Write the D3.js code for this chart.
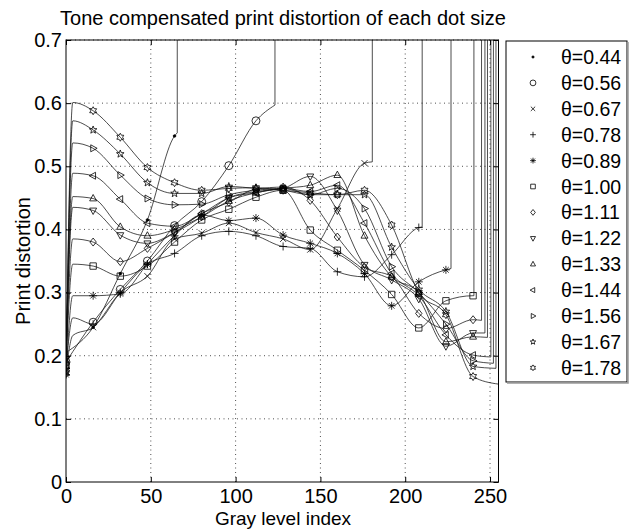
<!DOCTYPE html>
<html>
<head>
<meta charset="utf-8">
<script src="https://cdn.jsdelivr.net/npm/d3@7"></script>
<style>
  body { margin: 0; background: #fff; }
  text { font-family: "Liberation Sans", Arial, Helvetica, sans-serif; fill: #000; }
</style>
</head>
<body>
<svg id="chart" width="629" height="529"></svg>
<script>
// gray levels where the markers sit
var grayLevels = [0, 16, 32, 48, 64, 80, 96, 112, 128, 144, 160, 176, 192, 208, 224, 240]

var thetaLabels = ["θ=0.44", "θ=0.56", "θ=0.67", "θ=0.78", "θ=0.89", "θ=1.00", "θ=1.11",
                   "θ=1.22", "θ=1.33", "θ=1.44", "θ=1.56", "θ=1.67", "θ=1.78"]
var markerKinds = ["dot", "circle", "times", "plus", "asterisk", "square", "diamond",
                   "triDown", "triUp", "triLeft", "triRight", "pentagram", "hexagram"]

// print distortion at each gray level (null = curve already gone)
var dist044 = [0.205, 0.245, 0.33, 0.415, 0.548, null, null, null, null, null, null, null, null, null, null, null]
var dist056 = [0.19, 0.253, 0.305, 0.35, 0.406, 0.444, 0.501, 0.572, null, null, null, null, null, null, null, null]
var dist067 = [0.175, 0.245, 0.30, 0.326, 0.385, 0.394, 0.41, 0.395, 0.385, 0.368, 0.433, 0.505, null, null, null, null]
var dist078 = [0.18, 0.25, 0.30, 0.345, 0.362, 0.39, 0.397, 0.39, 0.373, 0.37, 0.333, 0.325, 0.36, 0.403, null, null]
var dist089 = [0.17, 0.295, 0.298, 0.345, 0.39, 0.423, 0.414, 0.418, 0.391, 0.378, 0.362, 0.33, 0.279, 0.317, 0.336, null]
var dist100 = [0.185, 0.342, 0.326, 0.342, 0.38, 0.415, 0.432, 0.451, 0.462, 0.399, 0.367, 0.335, 0.297, 0.244, 0.287, 0.295]
var dist111 = [0.19, 0.38, 0.349, 0.37, 0.395, 0.425, 0.443, 0.464, 0.467, 0.446, 0.388, 0.34, 0.325, 0.267, 0.243, 0.257]
var dist122 = [0.195, 0.43, 0.391, 0.378, 0.395, 0.42, 0.45, 0.46, 0.465, 0.484, 0.43, 0.344, 0.32, 0.29, 0.215, 0.236]
var dist133 = [0.2, 0.449, 0.404, 0.39, 0.40, 0.42, 0.445, 0.458, 0.465, 0.47, 0.486, 0.39, 0.325, 0.30, 0.222, 0.230]
var dist144 = [0.185, 0.485, 0.448, 0.41, 0.405, 0.425, 0.45, 0.458, 0.465, 0.46, 0.47, 0.41, 0.33, 0.295, 0.233, 0.201]
var dist156 = [0.18, 0.5285, 0.486, 0.449, 0.439, 0.44, 0.455, 0.462, 0.465, 0.455, 0.465, 0.433, 0.341, 0.30, 0.25, 0.192]
var dist167 = [0.175, 0.5575, 0.5195, 0.474, 0.457, 0.457, 0.468, 0.465, 0.462, 0.455, 0.455, 0.455, 0.372, 0.305, 0.27, 0.183]
var dist178 = [0.172, 0.588, 0.546, 0.498, 0.474, 0.462, 0.465, 0.466, 0.462, 0.458, 0.455, 0.462, 0.407, 0.30, 0.265, 0.167]

// quick rise just after gray level 0 (null = no rise point)
var riseGray = [null, null, 4, 4, 4, 4, 4, 4, 4, 4, 4, 4, 4]
var riseValue = [null, null, 0.232, 0.26, 0.295, 0.345, 0.385, 0.435, 0.452, 0.489, 0.537, 0.572, 0.601]

// where each curve ends before shooting up out of the plot
var endGray = [65.6, 123.2, 180.6, 210, 227, 240.5, 245, 247, 248.5, 250.5, 252, 253.5, 255]
var endValue = [0.553, 0.597, 0.507, 0.404, 0.338, 0.295, 0.256, 0.236, 0.229, 0.198, 0.188, 0.18, 0.155]

var xTicks = [0, 50, 100, 150, 200, 250]
var yTicks = [0, 0.1, 0.2, 0.3, 0.4, 0.5, 0.6, 0.7]

var allDist = [dist044, dist056, dist067, dist078, dist089, dist100, dist111,
               dist122, dist133, dist144, dist156, dist167, dist178]

var svg = d3.select("#chart")
var plotL = 66, plotR = 498.5, plotT = 40, plotB = 482

var x = d3.scaleLinear().domain([0, 255]).range([plotL, plotR])
var y = d3.scaleLinear().domain([0, 0.7]).range([plotB, plotT])

svg.append("defs").append("clipPath").attr("id", "plotClip")
  .append("rect")
  .attr("x", plotL).attr("y", plotT).attr("width", plotR - plotL).attr("height", plotB - plotT)

// grid
var grid = svg.append("g")
grid.selectAll(".vgrid").data(xTicks.slice(1)).enter().append("line")
  .attr("x1", d => x(d)).attr("x2", d => x(d)).attr("y1", plotT).attr("y2", plotB)
grid.selectAll(".hgrid").data(yTicks.slice(1)).enter().append("line")
  .attr("x1", plotL).attr("x2", plotR).attr("y1", d => y(d)).attr("y2", d => y(d))
grid.selectAll("line").attr("stroke", "#222").attr("stroke-width", 0.8).attr("stroke-dasharray", "1,3.5")

function markerPath(kind, s) {
  var p = "", i, a, r
  switch (kind) {
    case "dot":
    case "circle":
      return "M" + s + ",0A" + s + "," + s + " 0 1,1 " + (-s) + ",0A" + s + "," + s + " 0 1,1 " + s + ",0Z"
    case "times":
      a = s * 0.75
      return "M" + (-a) + "," + (-a) + "L" + a + "," + a + "M" + (-a) + "," + a + "L" + a + "," + (-a)
    case "plus":
      return "M" + (-s) + ",0H" + s + "M0," + (-s) + "V" + s
    case "asterisk":
      a = s * 0.7
      return "M" + (-s) + ",0H" + s + "M0," + (-s) + "V" + s +
        "M" + (-a) + "," + (-a) + "L" + a + "," + a + "M" + (-a) + "," + a + "L" + a + "," + (-a)
    case "square":
      a = s * 0.8
      return "M" + (-a) + "," + (-a) + "H" + a + "V" + a + "H" + (-a) + "Z"
    case "diamond":
      return "M0," + (-s) + "L" + (s * 0.8) + ",0L0," + s + "L" + (-s * 0.8) + ",0Z"
    case "triUp":
      return "M0," + (-s) + "L" + (s * 0.87) + "," + (s * 0.6) + "L" + (-s * 0.87) + "," + (s * 0.6) + "Z"
    case "triDown":
      return "M0," + s + "L" + (s * 0.87) + "," + (-s * 0.6) + "L" + (-s * 0.87) + "," + (-s * 0.6) + "Z"
    case "triLeft":
      return "M" + (-s) + ",0L" + (s * 0.6) + "," + (-s * 0.87) + "L" + (s * 0.6) + "," + (s * 0.87) + "Z"
    case "triRight":
      return "M" + s + ",0L" + (-s * 0.6) + "," + (-s * 0.87) + "L" + (-s * 0.6) + "," + (s * 0.87) + "Z"
    case "pentagram":
      for (i = 0; i < 10; i++) {
        r = i % 2 ? s * 0.42 : s
        a = -Math.PI / 2 + i * Math.PI / 5
        p += (i ? "L" : "M") + (r * Math.cos(a)).toFixed(2) + "," + (r * Math.sin(a)).toFixed(2)
      }
      return p + "Z"
    case "hexagram":
      for (i = 0; i < 12; i++) {
        r = i % 2 ? s * 0.58 : s
        a = -Math.PI / 2 + i * Math.PI / 6
        p += (i ? "L" : "M") + (r * Math.cos(a)).toFixed(2) + "," + (r * Math.sin(a)).toFixed(2)
      }
      return p + "Z"
  }
  return p
}

var line = d3.line().x(d => x(d[0])).y(d => y(d[1])).curve(d3.curveMonotoneX)

var plot = svg.append("g").attr("clip-path", "url(#plotClip)")

allDist.forEach(function (vals, k) {
  var pts = [[grayLevels[0], vals[0]]]
  if (riseGray[k] != null) pts.push([riseGray[k], riseValue[k]])
  var marks = []
  vals.forEach(function (v, i) {
    if (v == null) return
    marks.push([grayLevels[i], v])
    if (i > 0) pts.push([grayLevels[i], v])
  })
  pts.push([endGray[k], endValue[k]])

  plot.append("path").attr("d", line(pts))
    .attr("fill", "none").attr("stroke", "#111").attr("stroke-width", 0.75)
  // the curve blows up past its end
  plot.append("line")
    .attr("x1", x(endGray[k])).attr("x2", x(endGray[k]))
    .attr("y1", y(endValue[k])).attr("y2", plotT - 5)
    .attr("stroke", "#111").attr("stroke-width", 0.75)

  var kind = markerKinds[k]
  plot.selectAll(".m" + k).data(marks).enter().append("path")
    .attr("transform", d => "translate(" + x(d[0]) + "," + y(d[1]) + ")")
    .attr("d", markerPath(kind, kind == "dot" ? 1.3 : 4))
    .attr("fill", kind == "dot" ? "#000" : "none")
    .attr("stroke", "#000").attr("stroke-width", 0.8)
})

// frame
svg.append("rect").attr("x", plotL).attr("y", plotT).attr("width", plotR - plotL).attr("height", plotB - plotT)
  .attr("fill", "none").attr("stroke", "#000").attr("stroke-width", 1)

// axes with inward ticks
svg.append("g").attr("transform", "translate(0," + plotB + ")")
  .call(d3.axisBottom(x).tickValues(xTicks).tickFormat(d3.format("d")).tickSizeInner(-5).tickSizeOuter(0).tickPadding(7))
svg.append("g").attr("transform", "translate(" + plotL + ",0)")
  .call(d3.axisLeft(y).tickValues(yTicks).tickFormat(d => d === 0 ? "0" : d3.format(".1f")(d)).tickSizeInner(-5).tickSizeOuter(0).tickPadding(4))
svg.append("g").attr("transform", "translate(0," + plotT + ")")
  .call(d3.axisTop(x).tickValues(xTicks).tickSizeInner(-5).tickSizeOuter(0).tickFormat(""))
svg.append("g").attr("transform", "translate(" + plotR + ",0)")
  .call(d3.axisRight(y).tickValues(yTicks).tickSizeInner(-5).tickSizeOuter(0).tickFormat(""))
svg.selectAll(".domain").remove()
svg.selectAll(".tick line").attr("stroke", "#000")
svg.selectAll(".tick text").style("font-size", "20px").attr("fill", "#000")

svg.append("text").attr("x", 283).attr("y", 25).attr("text-anchor", "middle")
  .style("font-size", "20px").text("Tone compensated print distortion of each dot size")
svg.append("text").attr("x", 283).attr("y", 525).attr("text-anchor", "middle")
  .style("font-size", "19px").text("Gray level index")
svg.append("text").attr("transform", "translate(30,261) rotate(-90)").attr("text-anchor", "middle")
  .style("font-size", "20px").text("Print distortion")

// legend
var lg = svg.append("g")
lg.append("rect").attr("x", 506).attr("y", 41).attr("width", 121).attr("height", 341)
  .attr("fill", "#fff").attr("stroke", "#000").attr("stroke-width", 1)
lg.append("path").attr("d", "M507,383H628V42").attr("fill", "none").attr("stroke", "#999").attr("stroke-width", 1.5)
thetaLabels.forEach(function (t, k) {
  var cy = 57 + k * 25.9
  var kind = markerKinds[k]
  lg.append("path").attr("transform", "translate(533," + cy + ")")
    .attr("d", markerPath(kind, kind == "dot" ? 1.1 : 2.9))
    .attr("fill", kind == "dot" ? "#000" : "none")
    .attr("stroke", "#000").attr("stroke-width", 0.8)
  lg.append("text").attr("x", 561).attr("y", cy + 7).style("font-size", "19.5px").text(t)
})
</script>
</body>
</html>
